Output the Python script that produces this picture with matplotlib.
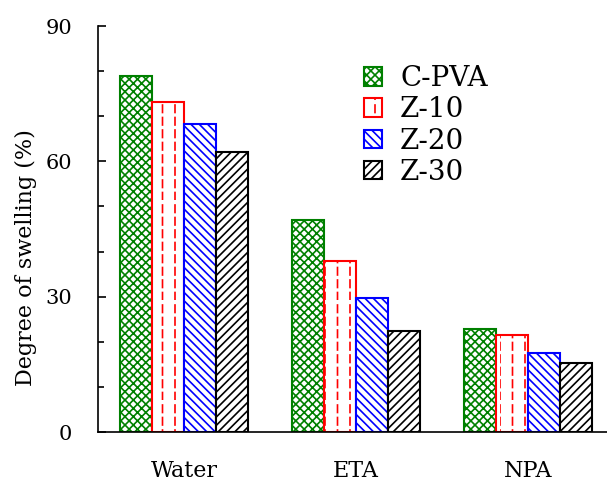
import matplotlib.pyplot as plt
import matplotlib.hatch as mhatch
import numpy as np
from matplotlib.path import Path
from matplotlib.ticker import MultipleLocator

plt.rcParams['font.family'] = ['DejaVu Serif']
plt.rcParams['hatch.linewidth'] = 1.2

# Datos
solventes = ["Water", "ETA", "NPA"]
series = ["C-PVA", "Z-10", "Z-20", "Z-30"]
c_pva = [79.0, 46.9, 22.9]
z_10 = [73.1, 37.8, 21.5]
z_20 = [68.2, 29.8, 17.5]
z_30 = [62.0, 22.4, 15.3]

valores = [c_pva, z_10, z_20, z_30]
cores = ["green", "red", "blue", "black"]
hachuras = ["xxxx", "|", "\\\\\\\\", "////"]


# Hachura '|' tracejada (linhas verticais com tracos)
class TracejadoVertical(mhatch.HatchPatternBase):
    def __init__(self, hatch, density):
        self.num_lines = int(hatch.count('|') * density * 1.4)
        self.num_dashes = 8
        self.num_vertices = self.num_lines * self.num_dashes * 2

    def set_vertices_and_codes(self, vertices, codes):
        if self.num_lines == 0:
            return
        xs = np.linspace(0, 1, self.num_lines, endpoint=False)
        ys = np.linspace(0, 1, self.num_dashes, endpoint=False)
        k = 0
        for xv in xs:
            for yv in ys:
                vertices[k] = (xv, yv)
                vertices[k + 1] = (xv, yv + 0.6 / self.num_dashes)
                codes[k] = Path.MOVETO
                codes[k + 1] = Path.LINETO
                k += 2


mhatch._hatch_types = [TracejadoVertical if h is mhatch.VerticalHatch else h
                       for h in mhatch._hatch_types]

fig = plt.figure(figsize=(6.07, 4.86), dpi=100)
ax = fig.add_axes([98 / 607, 54 / 486, 516 / 607, 406 / 486])

x = np.arange(len(solventes))
largura = 0.186
for i in range(len(series)):
    ax.bar(x + (i - 1.5) * largura, valores[i], width=largura,
           facecolor="white", edgecolor=cores[i], hatch=hachuras[i],
           linewidth=1.5, label=series[i])

ax.set_xlim(-0.5, 2.5)
ax.set_ylim(0, 90)
ax.yaxis.set_major_locator(MultipleLocator(30))
ax.yaxis.set_minor_locator(MultipleLocator(10))
ax.set_xticks(x)
ax.set_xticklabels(solventes)
ax.tick_params(axis='y', which='major', direction='in', length=6, width=1.2, labelsize=15, pad=18.5)
ax.tick_params(axis='y', which='minor', direction='in', length=4, width=1.2)
ax.tick_params(axis='x', length=0, labelsize=16, pad=20)
ax.spines['top'].set_visible(False)
ax.spines['right'].set_visible(False)
ax.spines['left'].set_linewidth(1.2)
ax.spines['bottom'].set_linewidth(1.2)
ax.set_ylabel("Degree of swelling (%)", fontsize=16)
ax.yaxis.set_label_coords(-0.118, 0.43)

ax.legend(loc='upper left', bbox_to_anchor=(0.467, 0.965), frameon=False,
          fontsize=20, handlelength=0.65, handleheight=0.65,
          handletextpad=0.65, labelspacing=0.15)

fig.savefig("out.png", dpi=100)
